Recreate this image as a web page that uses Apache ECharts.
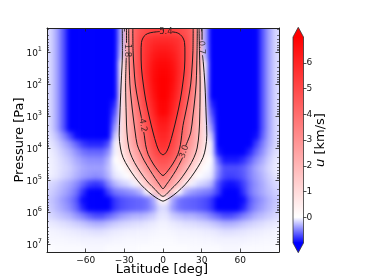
<!DOCTYPE html>
<html><head><meta charset="utf-8">
<script src="https://cdn.jsdelivr.net/npm/echarts@6/dist/echarts.min.js"></script>
<style>
html,body{margin:0;padding:0;background:#fff}
#c{width:374px;height:280px}
#c canvas[data-zr-dom-id="zr_0"]{filter:blur(2.4px);clip-path:inset(28px 95px 28px 47px)}
</style>
</head><body><div id="c"></div>
<script>
// ---------- data ----------
const latitudes = [-87.5,-82.5,-77.5,-72.5,-67.5,-62.5,-57.5,-52.5,-47.5,-42.5,-37.5,-32.5,-27.5,-22.5,-17.5,-12.5,-7.5,-2.5,
  2.5,7.5,12.5,17.5,22.5,27.5,32.5,37.5,42.5,47.5,52.5,57.5,62.5,67.5,72.5,77.5,82.5,87.5];
const log10Pressure = [0.375,0.625,0.875,1.125,1.375,1.625,1.875,2.125,2.375,2.625,2.875,3.125,3.375,3.625,
  3.875,4.125,4.375,4.625,4.875,5.125,5.375,5.625,5.875,6.125,6.375,6.625,6.875,7.125];

const uRow00 = [-0.15,-0.35,-0.65,-1,-1.4,-1.8,-2,-2,-2,-1.8,-1.5,-0.3,2.4,4.29,4.8,5.06,5.18,5.24,5.24,5.18,5.06,4.8,4.29,2.4,-0.3,-1.5,-1.8,-2,-2,-2,-1.8,-1.4,-1,-0.65,-0.35,-0.15];
const uRow01 = [-0.15,-0.35,-0.65,-1,-1.4,-1.8,-2,-2,-2,-1.8,-1.5,-0.3,2.4,4.32,5.04,5.58,5.76,5.84,5.84,5.76,5.58,5.04,4.32,2.4,-0.3,-1.5,-1.8,-2,-2,-2,-1.8,-1.4,-1,-0.65,-0.35,-0.15];
const uRow02 = [-0.15,-0.35,-0.65,-1,-1.4,-1.8,-2,-2,-2,-1.8,-1.5,-0.25,2.4,4.31,5.11,5.67,6.07,6.23,6.23,6.07,5.67,5.11,4.31,2.4,-0.25,-1.5,-1.8,-2,-2,-2,-1.8,-1.4,-1,-0.65,-0.35,-0.15];
const uRow03 = [-0.15,-0.35,-0.65,-1,-1.4,-1.8,-2,-2,-2,-1.8,-1.5,-0.2,2.4,4.27,5.14,5.8,6.32,6.52,6.52,6.32,5.8,5.14,4.27,2.4,-0.2,-1.5,-1.8,-2,-2,-2,-1.8,-1.4,-1,-0.65,-0.35,-0.15];
const uRow04 = [-0.15,-0.35,-0.65,-1,-1.4,-1.8,-2,-2,-2,-1.8,-1.4,0.15,2.47,4.22,5.13,5.88,6.52,6.77,6.77,6.52,5.88,5.13,4.22,2.47,0.15,-1.4,-1.8,-2,-2,-2,-1.8,-1.4,-1,-0.65,-0.35,-0.15];
const uRow05 = [-0.15,-0.35,-0.65,-1,-1.4,-1.8,-2,-2,-2,-1.8,-1.35,0.2,2.37,4.13,5.1,5.93,6.64,6.92,6.92,6.64,5.93,5.1,4.13,2.37,0.2,-1.35,-1.8,-2,-2,-2,-1.8,-1.4,-1,-0.65,-0.35,-0.15];
const uRow06 = [-0.15,-0.35,-0.65,-1,-1.4,-1.8,-2,-2,-2,-1.8,-1.25,0.3,2.33,3.95,4.98,5.87,6.68,7,7,6.68,5.87,4.98,3.95,2.33,0.3,-1.25,-1.8,-2,-2,-2,-1.8,-1.4,-1,-0.65,-0.35,-0.15];
const uRow07 = [-0.15,-0.35,-0.65,-1,-1.4,-1.8,-2,-2,-2,-1.8,-1.1,0.45,2.26,3.79,4.85,5.73,6.58,7,7,6.58,5.73,4.85,3.79,2.26,0.45,-1.1,-1.8,-2,-2,-2,-1.8,-1.4,-1,-0.65,-0.35,-0.15];
const uRow08 = [-0.15,-0.35,-0.65,-1,-1.4,-1.8,-2,-2,-2,-1.8,-1,0.5,2.18,3.57,4.66,5.57,6.43,7,7,6.43,5.57,4.66,3.57,2.18,0.5,-1,-1.8,-2,-2,-2,-1.8,-1.4,-1,-0.65,-0.35,-0.15];
const uRow09 = [-0.15,-0.35,-0.65,-1,-1.4,-1.8,-2,-2,-2,-1.8,-0.85,0.55,2.09,3.37,4.46,5.38,6.19,6.89,6.89,6.19,5.38,4.46,3.37,2.09,0.55,-0.85,-1.8,-2,-2,-2,-1.8,-1.4,-1,-0.65,-0.35,-0.15];
const uRow10 = [-0.15,-0.35,-0.65,-1,-1.4,-1.8,-2,-2,-2,-1.8,-0.7,0.65,2,3.19,4.22,5.14,5.98,6.83,6.83,5.98,5.14,4.22,3.19,2,0.65,-0.7,-1.8,-2,-2,-2,-1.8,-1.4,-1,-0.65,-0.35,-0.15];
const uRow11 = [-0.15,-0.35,-0.65,-1,-1.4,-1.8,-2,-2,-2,-1.8,-0.55,0.7,1.99,3.02,4.02,4.92,5.74,6.43,6.43,5.74,4.92,4.02,3.02,1.99,0.7,-0.55,-1.8,-2,-2,-2,-1.8,-1.4,-1,-0.65,-0.35,-0.15];
const uRow12 = [-0.15,-0.35,-0.65,-1,-1.4,-1.8,-2,-2,-2,-1.8,-0.4,0.75,1.9,2.88,3.88,4.74,5.5,6.16,6.16,5.5,4.74,3.88,2.88,1.9,0.75,-0.4,-1.8,-2,-2,-2,-1.8,-1.4,-1,-0.65,-0.35,-0.15];
const uRow13 = [-0.12,-0.25,-0.45,-0.7,-0.95,-1.2,-1.3,-1.3,-1.3,-1.1,-0.2,0.75,1.84,2.78,3.76,4.5,5.3,5.93,5.93,5.3,4.5,3.76,2.78,1.84,0.75,-0.2,-1.5,-1.8,-1.8,-1.8,-1.6,-1.3,-0.95,-0.6,-0.33,-0.15];
const uRow14 = [-0.09,-0.17,-0.3,-0.43,-0.6,-0.77,-0.85,-0.85,-0.85,-0.7,-0.05,0.75,1.69,2.58,3.48,4.33,5.07,5.69,5.69,5.07,4.33,3.48,2.58,1.69,0.75,-0.05,-1.2,-1.5,-1.5,-1.5,-1.35,-1.05,-0.75,-0.5,-0.3,-0.15];
const uRow15 = [-0.06,-0.12,-0.21,-0.3,-0.42,-0.54,-0.6,-0.6,-0.6,-0.45,-0.05,0.55,1.44,2.26,3.04,4.13,4.76,5.36,5.36,4.76,4.13,3.04,2.26,1.44,0.55,-0.05,-0.9,-1.2,-1.2,-1.2,-1.08,-0.84,-0.6,-0.42,-0.24,-0.12];
const uRow16 = [-0.05,-0.1,-0.16,-0.23,-0.32,-0.4,-0.45,-0.45,-0.45,-0.3,0,0.3,1.03,1.88,2.65,3.65,4.41,4.8,4.8,4.41,3.65,2.65,1.88,1.03,0.3,0,-0.6,-0.9,-0.9,-0.9,-0.81,-0.63,-0.45,-0.32,-0.18,-0.09];
const uRow17 = [-0.05,-0.09,-0.14,-0.19,-0.27,-0.34,-0.38,-0.38,-0.38,-0.25,-0.05,0,0.48,1.3,2.1,2.9,3.83,4.4,4.4,3.83,2.9,2.1,1.3,0.48,0,-0.05,-0.45,-0.7,-0.7,-0.7,-0.63,-0.49,-0.35,-0.25,-0.15,-0.08];
const uRow18 = [-0.06,-0.1,-0.16,-0.22,-0.3,-0.38,-0.42,-0.45,-0.42,-0.3,-0.1,-0.05,0,0.62,1.46,2.23,2.88,3.72,3.72,2.88,2.23,1.46,0.62,0,-0.05,-0.1,-0.5,-0.72,-0.75,-0.72,-0.65,-0.5,-0.38,-0.28,-0.18,-0.1];
const uRow19 = [-0.15,-0.2,-0.28,-0.35,-0.45,-0.6,-0.75,-0.8,-0.75,-0.5,-0.3,-0.2,-0.15,-0.05,0.57,1.58,2.36,3.07,3.07,2.36,1.58,0.57,-0.05,-0.15,-0.2,-0.3,-0.7,-0.9,-0.95,-0.9,-0.75,-0.55,-0.42,-0.32,-0.22,-0.15];
const uRow20 = [-0.18,-0.25,-0.33,-0.42,-0.55,-0.8,-1.1,-1.2,-1.1,-0.75,-0.55,-0.5,-0.45,-0.4,-0.3,0.1,1.24,2.1,2.1,1.24,0.1,-0.3,-0.4,-0.45,-0.5,-0.55,-0.75,-1.1,-1.2,-1.1,-0.8,-0.55,-0.42,-0.33,-0.25,-0.18];
const uRow21 = [-0.22,-0.3,-0.4,-0.5,-0.65,-0.95,-1.35,-1.5,-1.4,-1.05,-0.8,-0.7,-0.65,-0.62,-0.6,-0.55,-0.35,0.3,0.3,-0.35,-0.55,-0.6,-0.62,-0.65,-0.7,-0.8,-1.05,-1.4,-1.5,-1.35,-0.95,-0.65,-0.5,-0.4,-0.3,-0.22];
const uRow22 = [-0.2,-0.28,-0.36,-0.45,-0.6,-0.85,-1.15,-1.35,-1.3,-1,-0.8,-0.7,-0.65,-0.62,-0.6,-0.55,-0.4,-0.15,-0.15,-0.4,-0.55,-0.6,-0.62,-0.65,-0.7,-0.8,-1,-1.3,-1.35,-1.15,-0.85,-0.6,-0.45,-0.36,-0.28,-0.2];
const uRow23 = [-0.15,-0.2,-0.25,-0.3,-0.4,-0.5,-0.62,-0.7,-0.7,-0.6,-0.5,-0.4,-0.35,-0.3,-0.3,-0.25,-0.2,-0.1,-0.1,-0.2,-0.25,-0.3,-0.3,-0.35,-0.4,-0.5,-0.6,-0.7,-0.7,-0.62,-0.5,-0.4,-0.3,-0.25,-0.2,-0.15];
const uRow24 = [-0.08,-0.1,-0.12,-0.15,-0.18,-0.22,-0.27,-0.3,-0.3,-0.25,-0.2,-0.17,-0.15,-0.13,-0.12,-0.1,-0.08,-0.05,-0.05,-0.08,-0.1,-0.12,-0.13,-0.15,-0.17,-0.2,-0.25,-0.3,-0.3,-0.27,-0.22,-0.18,-0.15,-0.12,-0.1,-0.08];
const uRow25 = [-0.04,-0.05,-0.06,-0.07,-0.08,-0.1,-0.11,-0.12,-0.12,-0.1,-0.08,-0.07,-0.06,-0.06,-0.05,-0.05,-0.04,-0.03,-0.03,-0.04,-0.05,-0.05,-0.06,-0.06,-0.07,-0.08,-0.1,-0.12,-0.12,-0.11,-0.1,-0.08,-0.07,-0.06,-0.05,-0.04];
const uRow26 = [-0.03,-0.03,-0.03,-0.04,-0.04,-0.05,-0.05,-0.05,-0.05,-0.05,-0.04,-0.04,-0.03,-0.03,-0.03,-0.03,-0.02,-0.02,-0.02,-0.02,-0.03,-0.03,-0.03,-0.03,-0.04,-0.04,-0.05,-0.05,-0.05,-0.05,-0.05,-0.04,-0.04,-0.03,-0.03,-0.03];
const uRow27 = [-0.01,-0.02,-0.02,-0.02,-0.02,-0.02,-0.03,-0.03,-0.03,-0.02,-0.02,-0.02,-0.02,-0.02,-0.01,-0.01,-0.01,-0.01,-0.01,-0.01,-0.01,-0.01,-0.02,-0.02,-0.02,-0.02,-0.02,-0.03,-0.03,-0.03,-0.02,-0.02,-0.02,-0.02,-0.02,-0.01];
const uRows = [uRow00,uRow01,uRow02,uRow03,uRow04,uRow05,uRow06,uRow07,uRow08,uRow09,uRow10,uRow11,uRow12,uRow13,
  uRow14,uRow15,uRow16,uRow17,uRow18,uRow19,uRow20,uRow21,uRow22,uRow23,uRow24,uRow25,uRow26,uRow27];

// contour paths [latitude, log10 pressure], split where inline labels sit
const contour06a = [[-31.6,0.25],[-31.5,1.0],[-32.5,2.0],[-33.5,3.0],[-34,3.6],[-33,4.0],[-31,4.3],[-27,4.6],[-22,4.9],[-17,5.15],[-11,5.38],[-5.5,5.55],[-1.5,5.64],[0,5.66],[1.5,5.64],[5.5,5.55],[11,5.38],[17,5.15],[22,4.9],[27,4.6],[31,4.3],[33,4.0],[34,3.6],[33.5,3.0],[32.5,2.0],[31.2,1.3],[30.6,1.1]];
const contour06b = [[30.3,0.62],[30.3,0.25]];
const contour18a = [[-28.3,0.25],[-28.3,0.72]];
const contour18b = [[-28.5,1.18],[-29,2.0],[-28.5,3.0],[-28,3.5],[-26.5,4.0],[-24,4.3],[-20,4.6],[-15,4.9],[-11,5.1],[-6,5.3],[-2.5,5.45],[0,5.51],[2.5,5.45],[6,5.3],[11,5.1],[15,4.9],[20,4.6],[24,4.3],[26.5,4.0],[28,3.5],[28.5,3.0],[28.8,2.0],[28.3,1.0],[28,0.25]];
const contour30a = [[-26.6,0.25],[-26.4,1.0],[-25.7,2.0],[-24.6,2.5],[-23.2,3.0],[-21.6,3.5],[-20,3.9],[-17.5,4.15],[-14.5,4.4],[-10,4.7],[-6,4.95],[-2.5,5.15],[0,5.27],[2.5,5.15],[6,4.95],[10,4.7],[14,4.4],[15.2,4.3]];
const contour30b = [[17.6,3.93],[19.5,3.75],[21.6,3.5],[23.2,3.0],[24.6,2.5],[25.7,2.0],[26.4,1.0],[26.6,0.25]];
const contour42a = [[-23.4,0.25],[-23.2,1.0],[-22.5,1.5],[-21.5,2.0],[-19.5,2.5],[-17,3.0],[-16.6,3.08]];
const contour42b = [[-15,3.5],[-14.5,3.6],[-13.5,3.9],[-11.5,4.2],[-7.5,4.5],[-4,4.7],[-1.5,4.82],[0,4.86],[1.5,4.82],[4,4.7],[7.5,4.5],[11.5,4.2],[13.5,3.9],[14.5,3.6],[15.5,3.3],[17,3.0],[19.5,2.5],[21.5,2.0],[22.5,1.5],[23.2,1.0],[23.4,0.25]];
const contour54 = [[7,0.37],[11,0.4],[13.5,0.46],[15.5,0.56],[16.7,0.7],[17,1.0],[16.7,1.5],[15.3,2.0],[13.4,2.5],[10.8,3.0],[7.8,3.5],[5,3.9],[3,4.1],[1.2,4.19],[0,4.21],[-1.2,4.19],[-3,4.1],[-5,3.9],[-7.8,3.5],[-10.8,3.0],[-13.4,2.5],[-15.3,2.0],[-16.7,1.5],[-17,1.0],[-16.7,0.7],[-15.5,0.56],[-13.5,0.46],[-10,0.4],[-5,0.37],[-2.5,0.36]];
const contourPaths = [contour06a,contour06b,contour18a,contour18b,contour30a,contour30b,contour42a,contour42b,contour54];

const contourLabelText = ['5.4','1.8','0.7','4.2','3.0'];
const contourLabelLat = [2.3,-28.0,29.9,-15.6,16.4];
const contourLabelLogP = [0.37,0.95,0.86,3.29,4.11];
const contourLabelAngle = [0,-90,-88,-80,72];

const latTicks = [-60,-30,0,30,60];
const pressureTicks = [1e1,1e2,1e3,1e4,1e5,1e6,1e7];
const minorMultipliers = [2,3,4,5,6,7,8,9];
const colorbarTicks = [0,1,2,3,4,5,6];
const colorRange = [-1, 7];
const pressureRangeLog = [0.25, 7.25];
const latRange = [-90, 90];

// ---------- build ----------
function bwr(v){
  if (v < 0) { const t = Math.min(1, v / colorRange[0]); const c = Math.round(255*(1-t)); return 'rgb('+c+','+c+',255)'; }
  const t = Math.min(1, v / colorRange[1]); const c = Math.round(255*(1-t)); return 'rgb(255,'+c+','+c+')';
}
const heatData = [];
log10Pressure.forEach((lp,i)=>latitudes.forEach((la,j)=>heatData.push([la, Math.pow(10,lp), uRows[i][j], lp, j, i])));
const latHalf = (latitudes[1]-latitudes[0])/2, lpHalf = (log10Pressure[1]-log10Pressure[0])/2;
const nLat = latitudes.length, nP = log10Pressure.length;

const pMin = Math.pow(10, pressureRangeLog[0]), pMax = Math.pow(10, pressureRangeLog[1]);
const minorTicks = [];
for (let e = 0; e <= 7; e++) minorMultipliers.forEach(m => { const v = m*Math.pow(10,e); if (v > pMin && v < pMax) minorTicks.push(v); });

const FONT = 'DejaVu Sans';
const AX = '#222';
function logLabel(v){ const e = Math.round(Math.log10(v)); return '{b|10}{s|'+e+'}'; }

const yBase = {gridIndex:0, type:'log', logBase:10, min:pMin, max:pMax, inverse:true, splitLine:{show:false}, z:10, zlevel:1};
const option = {
  animation:false,
  backgroundColor:'transparent',
  grid:[{left:47, top:28, width:232, height:224, containLabel:false, zlevel:1},
        {left:293, top:37, width:10.5, height:206, containLabel:false, zlevel:1}],
  xAxis:[
    {gridIndex:0, type:'value', min:latRange[0], max:latRange[1], position:'bottom', z:10, zlevel:1,
     axisLine:{show:true, onZero:false, lineStyle:{color:AX, width:1}},
     axisTick:{show:true, inside:true, length:3.5, customValues:latTicks, lineStyle:{color:AX, width:0.8}},
     axisLabel:{show:true, customValues:latTicks, fontFamily:FONT, fontSize:9, color:'#111', margin:4,
       formatter:v=>String(v).replace('-','\u2212')},
     splitLine:{show:false}},
    {gridIndex:0, type:'value', min:latRange[0], max:latRange[1], position:'top', z:10, zlevel:1,
     axisLine:{show:true, onZero:false, lineStyle:{color:AX, width:1}},
     axisTick:{show:true, inside:true, length:3.5, customValues:latTicks, lineStyle:{color:AX, width:0.8}},
     axisLabel:{show:false}, splitLine:{show:false}},
    {gridIndex:1, type:'value', min:0, max:1, show:false, zlevel:1}
  ],
  yAxis:[
    Object.assign({}, yBase, {position:'left',
      axisLine:{show:true, onZero:false, lineStyle:{color:AX, width:1}},
      axisTick:{show:true, inside:true, length:3.5, customValues:pressureTicks, lineStyle:{color:AX, width:0.8}},
      axisLabel:{show:true, customValues:pressureTicks, margin:5, formatter:logLabel,
        rich:{b:{fontFamily:FONT, fontSize:9, color:'#111', lineHeight:13, verticalAlign:'bottom'},
              s:{fontFamily:FONT, fontSize:6.5, color:'#111', lineHeight:13, verticalAlign:'top'}}}}),
    Object.assign({}, yBase, {position:'right',
      axisLine:{show:true, onZero:false, lineStyle:{color:AX, width:1}},
      axisTick:{show:true, inside:true, length:3.5, customValues:pressureTicks, lineStyle:{color:AX, width:0.8}},
      axisLabel:{show:false}}),
    Object.assign({}, yBase, {position:'left', axisLine:{show:false, onZero:false},
      axisTick:{show:true, inside:true, length:2, customValues:minorTicks, lineStyle:{color:AX, width:0.6}},
      axisLabel:{show:false}}),
    Object.assign({}, yBase, {position:'right', axisLine:{show:false, onZero:false},
      axisTick:{show:true, inside:true, length:2, customValues:minorTicks, lineStyle:{color:AX, width:0.6}},
      axisLabel:{show:false}}),
    {gridIndex:1, type:'value', min:colorRange[0], max:colorRange[1], position:'right', z:10, zlevel:1,
     axisLine:{show:false, onZero:false}, splitLine:{show:false},
     axisTick:{show:true, inside:false, length:3, customValues:colorbarTicks, lineStyle:{color:AX, width:0.8}},
     axisLabel:{show:true, customValues:colorbarTicks, fontFamily:FONT, fontSize:9, color:'#111', margin:3}}
  ],
  series:[
    {type:'custom', xAxisIndex:0, yAxisIndex:0, clip:false, z:1, zlevel:0, data:heatData,
     encode:{x:0, y:1},
     renderItem:function(params, api){
       const la = api.value(0), lp = api.value(3), v = api.value(2), j = api.value(4), i = api.value(5);
       const a = api.coord([la-latHalf, Math.pow(10, lp-lpHalf)]);
       const b = api.coord([la+latHalf, Math.pow(10, lp+lpHalf)]);
       let x0 = Math.min(a[0],b[0]), x1 = Math.max(a[0],b[0]), y0 = Math.min(a[1],b[1]), y1 = Math.max(a[1],b[1]);
       // pad the outer ring so the soft rendering does not fade at the frame
       if (j === 0) x0 -= 12; if (j === nLat-1) x1 += 12;
       if (i === 0) y0 -= 12; if (i === nP-1) y1 += 12;
       return {type:'rect', shape:{x:x0, y:y0, width:x1-x0+0.7, height:y1-y0+0.7}, style:{fill:bwr(v)}};
     }},
  ].concat(contourPaths.map(path => ({
     type:'line', xAxisIndex:0, yAxisIndex:0, z:3, zlevel:1, smooth:0.35, showSymbol:false, silent:true,
     lineStyle:{color:'#1a1a1a', width:1},
     data:path.map(p => [p[0], Math.pow(10, p[1])])
  }))).concat([
    {type:'scatter', xAxisIndex:0, yAxisIndex:0, z:4, zlevel:1, symbolSize:0, silent:true,
     data:contourLabelText.map((t,i)=>({value:[contourLabelLat[i], Math.pow(10, contourLabelLogP[i])],
        label:{show:true, position:'inside', formatter:t, rotate:contourLabelAngle[i],
               fontFamily:FONT, fontSize:8.5, color:'#111'}}))},
    {type:'custom', xAxisIndex:2, yAxisIndex:4, z:2, zlevel:1, data:[[0, colorRange[0]]],
     renderItem:function(params, api){
       const tl = api.coord([0, colorRange[1]]), br = api.coord([1, colorRange[0]]);
       const x0 = tl[0], x1 = br[0], y0 = tl[1], y1 = br[1], w = x1-x0, xm = (x0+x1)/2, th = w*0.92;
       const mid = (colorRange[1]-0)/(colorRange[1]-colorRange[0]);
       return {type:'group', children:[
         {type:'rect', shape:{x:x0, y:y0, width:w, height:y1-y0},
          style:{fill:{type:'linear', x:0, y:0, x2:0, y2:1, colorStops:[
            {offset:0, color:'rgb(255,0,0)'}, {offset:mid, color:'rgb(255,255,255)'}, {offset:1, color:'rgb(0,0,255)'}]}}},
         {type:'polygon', shape:{points:[[x0,y0+0.3],[x1,y0+0.3],[xm,y0-th]]}, style:{fill:'rgb(255,0,0)'}},
         {type:'polygon', shape:{points:[[x0,y1-0.3],[x1,y1-0.3],[xm,y1+th]]}, style:{fill:'rgb(0,0,255)'}},
         {type:'polygon', shape:{points:[[x0,y0],[xm,y0-th],[x1,y0],[x1,y1],[xm,y1+th],[x0,y1]]},
          style:{fill:'none', stroke:'#333', lineWidth:0.8}}
       ]};
     }}
  ]),
  graphic:[
    {type:'text', zlevel:1, x:20, y:140, rotation:Math.PI/2, style:{text:'Pressure [Pa]', font:'13px "DejaVu Sans"', fill:'#000', align:'center', verticalAlign:'middle'}},
    {type:'text', zlevel:1, x:162, y:270, style:{text:'Latitude [deg]', font:'13px "DejaVu Sans"', fill:'#000', align:'center', verticalAlign:'middle'}},
    {type:'text', zlevel:1, x:321, y:140, rotation:Math.PI/2, style:{text:'{i|u} [km/s]', font:'13px "DejaVu Sans"', fill:'#000', align:'center', verticalAlign:'middle',
      rich:{i:{fontStyle:'italic', fontFamily:'DejaVu Sans', fontSize:13, fill:'#000'}}}}
  ]
};
const chart = echarts.init(document.getElementById('c'), null, {renderer:'canvas', width:374, height:280});
chart.setOption(option);
</script></body></html>
